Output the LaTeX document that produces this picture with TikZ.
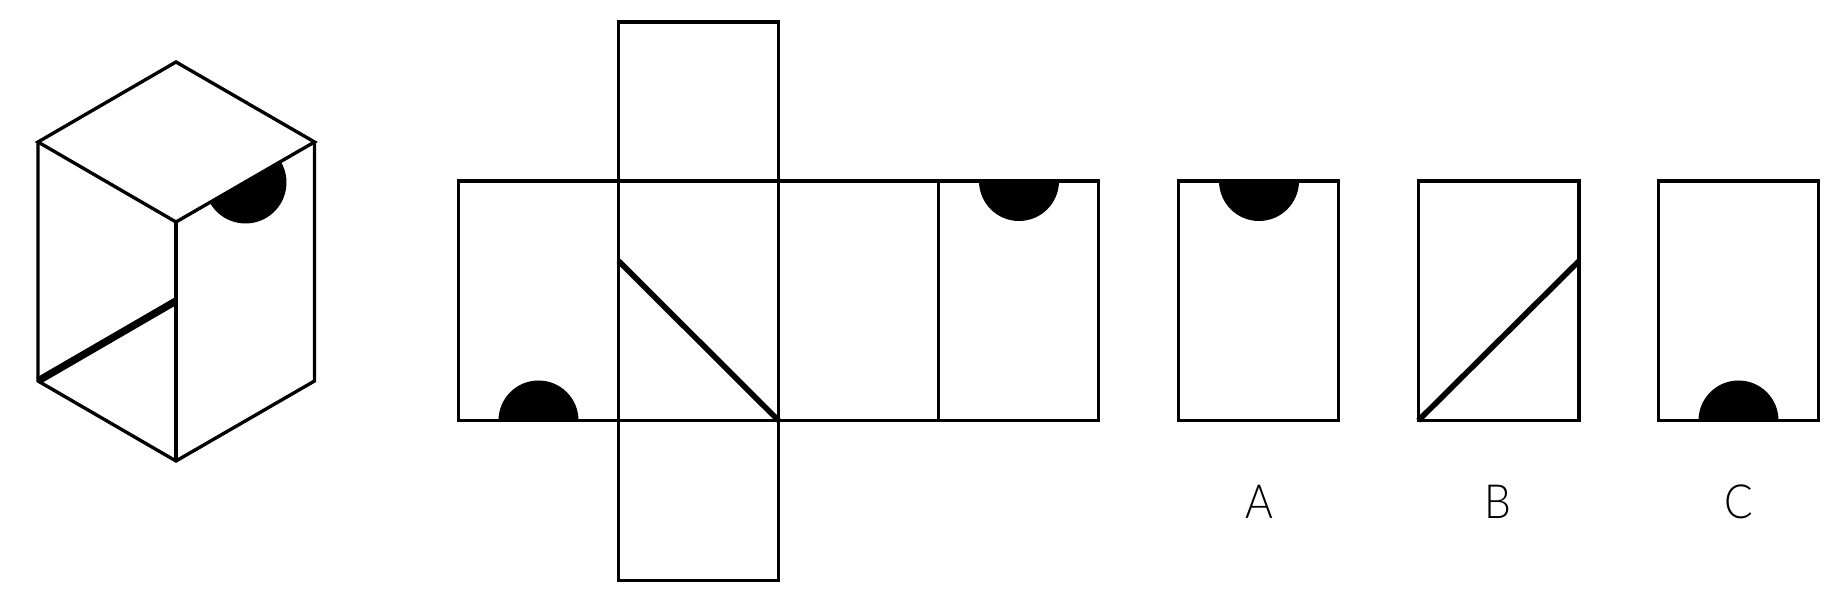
\documentclass[tikz,border=0pt]{standalone}
\usepackage{fontspec}
\setmainfont{Lato}[UprightFont=* Light]
\tikzset{
	outline/.style={line width=0.95pt, line join=miter},
	fold/.style={line width=1.6pt},
	heavy/.style={line width=2.1pt},
	optlabel/.style={font=\fontsize{13.4pt}{13.4pt}\selectfont, xscale=0.9, inner sep=0}
}
\begin{document}
\begin{tikzpicture}
	%%%%% START %%%%%
	\useasboundingbox (0, 0) rectangle (18.48, 6.04);
	
	% cube
	\fill (2.0999, 4.01) arc (210:390:0.41) -- cycle;
	\draw[outline] (0.38, 4.62) -- (1.76, 5.42) -- (3.145, 4.62) -- (1.76, 3.82) -- cycle;
	\draw[outline] (0.38, 4.62) -- (0.38, 2.23) -- (1.76, 1.43) -- (3.145, 2.23) -- (3.145, 4.62);
	\draw[outline] (1.76, 3.82) -- (1.76, 1.43);
	\draw[heavy] (0.38, 2.23) -- (1.76, 3.03);
	
	% net
	\fill (4.985, 1.835) arc (180:0:0.4) -- cycle;
	\fill (9.79, 4.23) arc (180:360:0.4) -- cycle;
	\draw[outline] (6.185, 0.235) rectangle (7.785, 5.82);
	\draw[outline] (4.585, 1.835) rectangle (10.985, 4.23);
	\draw[outline] (9.385, 1.835) -- (9.385, 4.23);
	\draw[fold] (6.185, 3.43) -- (7.785, 1.835);
	
	% choices
	\draw[outline] (11.786, 1.835) rectangle (13.385, 4.23);
	\fill (12.19, 4.23) arc (180:360:0.4) -- cycle;
	\node[optlabel] (labela) at (12.59, 1.02) {A};
	
	\draw[outline] (14.184, 1.835) rectangle (15.79, 4.23);
	\draw[fold] (14.184, 1.835) -- (15.79, 3.43);
	\node[optlabel] (labelb) at (14.98, 1.02) {B};
	
	\draw[outline] (16.583, 1.835) rectangle (18.186, 4.23);
	\fill (16.985, 1.835) arc (180:0:0.4) -- cycle;
	\node[optlabel] (labelc) at (17.385, 1.02) {C};
	%%%%% END %%%%%
\end{tikzpicture}
\end{document}
